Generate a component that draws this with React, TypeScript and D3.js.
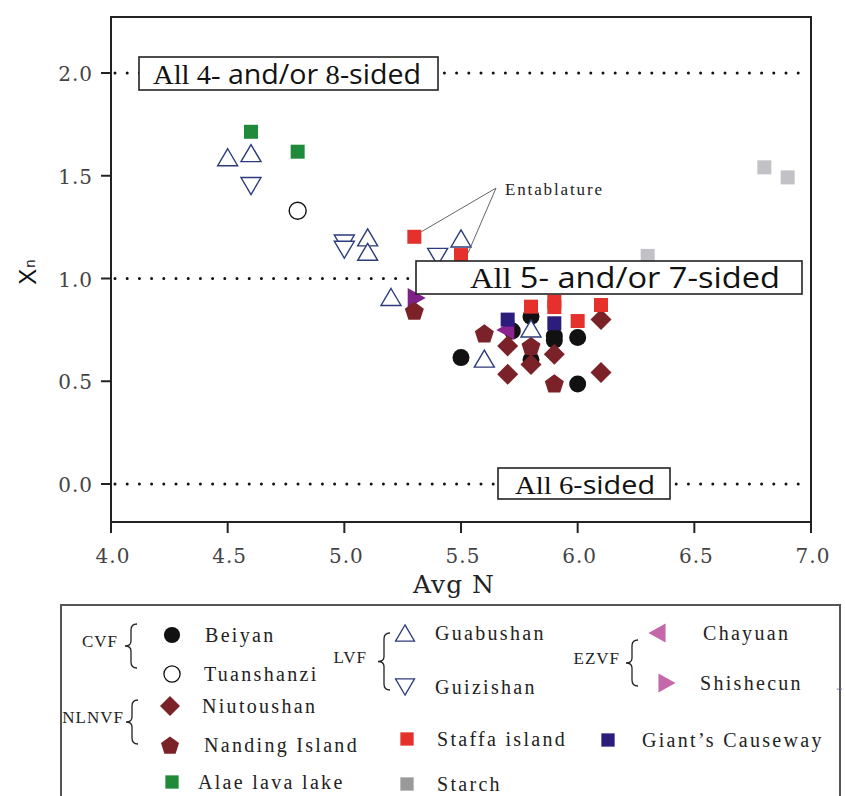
import React from "react";
import * as d3 from "d3";

// [Avg N, Xn]
const beiyan = [[5.5, 0.615], [5.72, 0.745], [5.8, 0.815], [5.8, 0.605], [5.9, 0.72], [5.9, 0.70], [6.0, 0.713], [6.0, 0.487]];
const tuanshanzi = [[4.8, 1.33]];
const chayuan = [[5.69, 0.75]];
const shishecun = [[5.31, 0.905]];
const guabushan = [[4.5, 1.59], [4.6, 1.61], [5.1, 1.2], [5.1, 1.13], [5.5, 1.195], [5.2, 0.91], [5.6, 0.61], [5.8, 0.757]];
const guizishan = [[4.6, 1.45], [5.0, 1.17], [5.0, 1.14], [5.4, 1.105]];
const niutoushan = [[5.7, 0.672], [5.9, 0.631], [5.8, 0.582], [5.7, 0.534], [6.1, 0.8], [6.1, 0.542]];
const nanding = [[5.3, 0.843], [5.6, 0.733], [5.8, 0.672], [5.9, 0.49]];
const staffa = [[5.3, 1.203], [5.5, 1.114], [5.8, 0.863], [5.9, 0.887], [5.9, 0.861], [6.0, 0.793], [6.1, 0.871]];
const giants = [[5.7, 0.8], [5.9, 0.782]];
const alae = [[4.6, 1.714], [4.8, 1.617]];
const starch = [[6.3, 1.11], [6.8, 1.541], [6.9, 1.492]];

const xTicks = [4.0, 4.5, 5.0, 5.5, 6.0, 6.5, 7.0];
const yTicks = [0.0, 0.5, 1.0, 1.5, 2.0];
const refLines = [2.0, 1.0, 0.0];

const SERIF = "Liberation Serif";
const DSERIF = "DejaVu Serif";
const SANS = "Open Sans";

const x = d3.scaleLinear().domain([4, 7]).range([111, 811]);
const y = d3.scaleLinear().domain([0, 2]).range([484, 73]);

function shape(kind, s = 1) {
  if (kind === "circle") return d3.symbol(d3.symbolCircle, Math.PI * 8.5 * 8.5 * s * s)();
  if (kind === "square") { const h = 7 * s; return `M${-h},${-h}H${h}V${h}H${-h}Z`; }
  if (kind === "diamond") { const h = 10.5 * s; return `M0,${-h}L${h},0L0,${h}L${-h},0Z`; }
  if (kind === "up") { const w = 10 * s, h = 8.5 * s; return `M0,${-h}L${w},${h}L${-w},${h}Z`; }
  if (kind === "down") { const w = 10 * s, h = 8.5 * s; return `M0,${h}L${w},${-h}L${-w},${-h}Z`; }
  if (kind === "left") { const w = 10 * s, h = 9 * s; return `M${-h},0L${h},${-w}L${h},${w}Z`; }
  if (kind === "right") { const w = 10 * s, h = 9 * s; return `M${h},0L${-h},${-w}L${-h},${w}Z`; }
  if (kind === "pentagon") {
    const r = 10 * s;
    const pts = d3.range(5).map((i) => {
      const a = -Math.PI / 2 + (i * 2 * Math.PI) / 5;
      return [r * Math.cos(a), r * Math.sin(a) + 1];
    });
    return d3.line()(pts) + "Z";
  }
  return "";
}

const series = [
  { name: "Beiyan", data: beiyan, kind: "circle", fill: "#111", stroke: "none" },
  { name: "Tuanshanzi", data: tuanshanzi, kind: "circle", fill: "#fff", stroke: "#111" },
  { name: "Chayuan", data: chayuan, kind: "left", fill: "#8a2590", stroke: "none" },
  { name: "Shishecun", data: shishecun, kind: "right", fill: "#80208a", stroke: "none" },
  { name: "Guabushan", data: guabushan, kind: "up", fill: "#fff", stroke: "#2c3b7c" },
  { name: "Guizishan", data: guizishan, kind: "down", fill: "#fff", stroke: "#2c3b7c" },
  { name: "Niutoushan", data: niutoushan, kind: "diamond", fill: "#7a2228", stroke: "none" },
  { name: "Nanding Island", data: nanding, kind: "pentagon", fill: "#7a2228", stroke: "none" },
  { name: "Staffa island", data: staffa, kind: "square", fill: "#e5302b", stroke: "none" },
  { name: "Giant's Causeway", data: giants, kind: "square", fill: "#2c1c7c", stroke: "none" },
  { name: "Alae lava lake", data: alae, kind: "square", fill: "#1f8a3a", stroke: "none" },
  { name: "Starch", data: starch, kind: "square", fill: "#c2c2c6", stroke: "none" },
];

const legendItems = [
  { label: "Beiyan", kind: "circle", fill: "#111", stroke: "none", mx: 172, my: 635, tx: 205 },
  { label: "Tuanshanzi", kind: "circle", fill: "#fff", stroke: "#111", mx: 172, my: 674, tx: 204 },
  { label: "Guabushan", kind: "up", fill: "#fff", stroke: "#2c3b7c", mx: 405, my: 633, tx: 435 },
  { label: "Guizishan", kind: "down", fill: "#fff", stroke: "#2c3b7c", mx: 405, my: 687, tx: 435 },
  { label: "Chayuan", kind: "left", fill: "#c468aa", stroke: "none", mx: 657, my: 633, tx: 703 },
  { label: "Shishecun", kind: "right", fill: "#c468aa", stroke: "none", mx: 667, my: 683, tx: 700 },
  { label: "Niutoushan", kind: "diamond", fill: "#7a2228", stroke: "none", mx: 170, my: 706, tx: 202 },
  { label: "Nanding Island", kind: "pentagon", fill: "#7a2228", stroke: "none", mx: 170, my: 745, tx: 204 },
  { label: "Staffa island", kind: "square", fill: "#e5302b", stroke: "none", mx: 407, my: 739, tx: 437 },
  { label: "Giant\u2019s Causeway", kind: "square", fill: "#2c1c7c", stroke: "none", mx: 608, my: 740, tx: 642 },
  { label: "Alae lava lake", kind: "square", fill: "#1f8a3a", stroke: "none", mx: 172, my: 782, tx: 198 },
  { label: "Starch", kind: "square", fill: "#9a9a9a", stroke: "none", mx: 407, my: 784, tx: 437 },
];

const groups = [
  { label: "CVF", tx: 118, ty: 647, bx: 131, y0: 624, y1: 668 },
  { label: "LVF", tx: 367, ty: 663, bx: 384, y0: 633, y1: 690 },
  { label: "EZVF", tx: 620, ty: 664, bx: 632, y0: 640, y1: 686 },
  { label: "NLNVF", tx: 124, ty: 723, bx: 132, y0: 700, y1: 744 },
];

function brace(bx, y0, y1) {
  const m = (y0 + y1) / 2;
  return `M${bx + 6},${y0} Q${bx},${y0} ${bx},${y0 + 6} L${bx},${m - 5} Q${bx},${m} ${bx - 6},${m} Q${bx},${m} ${bx},${m + 5} L${bx},${y1 - 6} Q${bx},${y1} ${bx + 6},${y1}`;
}

const App = () => {
  const left = x(4), right = x(7), top = 17, bottom = 522;
  const entX = x(5.65), entY = y(1.44);
  return (
    <svg width={845} height={796} style={{ position: "absolute", left: 0, top: 0, background: "#fff" }}>
      <rect width={845} height={796} fill="#fff" />
      {/* dotted reference lines */}
      {refLines.map((v) => (
        <line key={v} x1={left + 4} x2={right - 4} y1={y(v)} y2={y(v)} stroke="#111" strokeWidth={3}
          strokeDasharray="0 12.2" strokeLinecap="round" />
      ))}
      {/* points */}
      {series.map((s) => (
        <g key={s.name}>
          {s.data.map((d, i) => (
            <path key={i} d={shape(s.kind)} transform={`translate(${x(d[0])},${y(d[1])})`}
              fill={s.fill} stroke={s.stroke} strokeWidth={1.4} />
          ))}
        </g>
      ))}
      {/* entablature annotation */}
      <line x1={entX} y1={entY} x2={x(5.3) + 7} y2={y(1.203) - 5} stroke="#666" strokeWidth={1} />
      <line x1={entX} y1={entY} x2={x(5.5) + 7} y2={y(1.114) - 2} stroke="#666" strokeWidth={1} />
      <text x={505} y={195} fontFamily={SERIF} fontSize={17} fill="#222" textLength={97} lengthAdjust="spacing">Entablature</text>

      {/* label boxes */}
      <rect x={139} y={57} width={299} height={33} fill="#fff" stroke="#222" strokeWidth={1.6} />
      <text x={153} y={84} fontSize={27} fill="#111" textLength={268} lengthAdjust="spacingAndGlyphs">
        <tspan fontFamily={SERIF}>All 4-</tspan>
        <tspan fontFamily={SANS}> and/or </tspan>
        <tspan fontFamily={SERIF}>8</tspan>
        <tspan fontFamily={SANS}>-sided</tspan>
      </text>
      <rect x={416} y={261} width={386} height={33} fill="#fff" stroke="#222" strokeWidth={1.6} />
      <text x={470} y={288} fontSize={30} fill="#111" textLength={310} lengthAdjust="spacingAndGlyphs">
        <tspan fontFamily={SERIF}>All </tspan>
        <tspan fontFamily={SANS}>5- and/or 7-sided</tspan>
      </text>
      <rect x={498} y={468} width={172} height={31} fill="#fff" stroke="#222" strokeWidth={1.6} />
      <text x={515} y={494} fontSize={26} fill="#111" textLength={140} lengthAdjust="spacingAndGlyphs">
        <tspan fontFamily={SERIF}>All 6</tspan>
        <tspan fontFamily={SANS}>-sided</tspan>
      </text>

      {/* frame */}
      <path d={`M${left},${top}H${right}V${bottom}H${left}Z`} fill="none" stroke="#222" strokeWidth={2} />
      <line x1={left} x2={left} y1={bottom} y2={533} stroke="#222" strokeWidth={2} />
      {xTicks.map((t) => (
        <g key={t}>
          <line x1={x(t)} x2={x(t)} y1={bottom} y2={533} stroke="#222" strokeWidth={2} />
          <text x={x(t) + 2} y={563} textAnchor="middle" fontFamily={DSERIF} fontSize={20} fill="#444" letterSpacing={1}>
            {t.toFixed(1)}
          </text>
        </g>
      ))}
      {yTicks.map((t) => (
        <g key={t}>
          <line x1={left - 10} x2={left} y1={y(t)} y2={y(t)} stroke="#222" strokeWidth={2} />
          <text x={93} y={y(t) + 8} textAnchor="end" fontFamily={DSERIF} fontSize={20} fill="#444" letterSpacing={1}>
            {t.toFixed(1)}
          </text>
        </g>
      ))}
      <text x={454} y={593} textAnchor="middle" fontFamily={DSERIF} fontSize={25} fill="#222" letterSpacing={1}>Avg N</text>
      <text transform="translate(36,272) rotate(-90)" textAnchor="middle" fontFamily="Liberation Sans" fontSize={24} fill="#111">
        X<tspan fontSize={15} dx={1} dy={-1}>n</tspan>
      </text>

      {/* legend */}
      <rect x={61} y={605} width={779} height={220} fill="#fff" stroke="#555" strokeWidth={2} />
      {groups.map((g) => (
        <g key={g.label}>
          <text x={g.tx} y={g.ty} textAnchor="end" fontFamily={SERIF} fontSize={17} fill="#222" letterSpacing={1}>{g.label}</text>
          <path d={brace(g.bx, g.y0, g.y1)} fill="none" stroke="#222" strokeWidth={1.3} />
        </g>
      ))}
      {legendItems.map((l) => (
        <g key={l.label}>
          <path d={shape(l.kind, 0.95)} transform={`translate(${l.mx},${l.my})`} fill={l.fill} stroke={l.stroke} strokeWidth={1.3} />
          <text x={l.tx} y={l.my + 7} fontFamily={SERIF} fontSize={20} fill="#222" letterSpacing={2.3}>{l.label}</text>
        </g>
      ))}
      <text x={836} y={690} fontFamily={SERIF} fontSize={14} fill="#999">..</text>
    </svg>
  );
};

export default App;
